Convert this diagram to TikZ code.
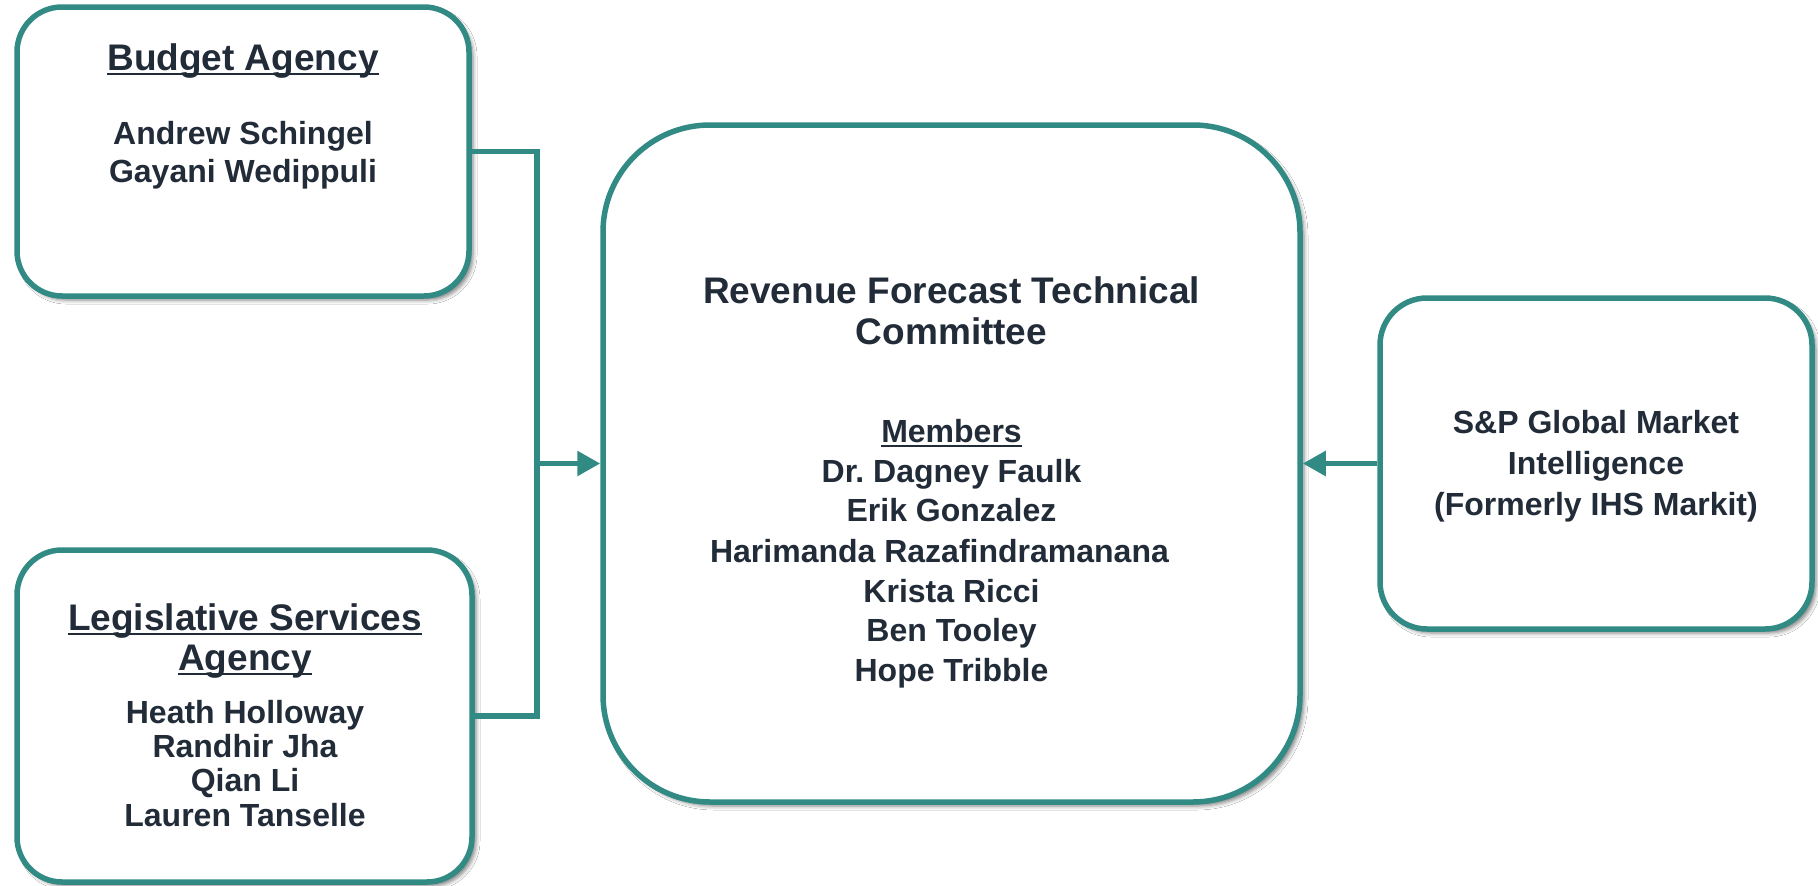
\documentclass[tikz,border=0pt]{standalone}
\usepackage{fontspec}
\setmainfont{Liberation Sans}
\usetikzlibrary{arrows.meta,shadows.blur}
\definecolor{teal1}{HTML}{318B84}
\definecolor{ink}{HTML}{222B38}
\newcommand{\myul}[1]{\leavevmode\vtop{\hbox{\smash{#1}}\kern3pt\hrule height 2.2pt}}
\tikzset{
  box/.style={draw=teal1, line width=5.5pt, rounded corners=#1, fill=white,
    blur shadow={shadow xshift=4pt, shadow yshift=-4pt, shadow blur radius=4pt, shadow opacity=50}},
  box/.default=45pt,
  conn/.style={draw=teal1, line width=5.5pt},
  arrowtip/.style={-{Triangle[length=23pt,width=24pt]}},
  bigtxt/.style={inner sep=0pt, anchor=base, text=ink, font=\bfseries\fontsize{37}{40}\selectfont},
  ppl/.style={inner sep=0pt, anchor=base, text=ink, font=\bfseries\fontsize{32}{38}\selectfont},
}
\begin{document}
\begin{tikzpicture}[x=1pt,y=-1pt]
\fill[white] (0,0) rectangle (1818,886);
\useasboundingbox (0,0) rectangle (1818,886);

% boxes
\node[box, minimum width=452pt, minimum height=289pt] (budget) at (243,151.5) {};
\node[box, minimum width=455pt, minimum height=332pt] (legis) at (244.5,716) {};
\node[box=107pt, minimum width=697pt, minimum height=677pt] (rftc) at (951.5,463.5) {};
\node[box=47pt, minimum width=432pt, minimum height=331pt] (sp) at (1596,463.5) {};

% budget text
\node[bigtxt] (b1) at (243,70) {\myul{Budget Agency}};
\node[ppl] (b2) at (243,144) {Andrew Schingel};
\node[ppl] (b3) at (243,182) {Gayani Wedippuli};

% legislative text
\node[bigtxt] (l1) at (245,630) {\myul{Legislative Services}};
\node[bigtxt] (l2) at (245,670) {\myul{Agency}};
\node[ppl] (l3) at (245,723) {Heath Holloway};
\node[ppl] (l4) at (245,757) {Randhir Jha};
\node[ppl] (l5) at (245,791) {Qian Li};
\node[ppl] (l6) at (245,826) {Lauren Tanselle};

% central text
\node[bigtxt] (c1) at (951.5,303) {Revenue Forecast Technical};
\node[bigtxt] (c2) at (951.5,344) {Committee};
\node[ppl] (c3) at (951.5,442) {\myul{Members}};
\node[ppl] (c4) at (951.5,482) {Dr.\ Dagney Faulk};
\node[ppl] (c5) at (951.5,521) {Erik Gonzalez};
\node[ppl] (c6) at (939.5,562) {Harimanda Razafindramanana};
\node[ppl] (c7) at (951.5,602) {Krista Ricci};
\node[ppl] (c8) at (951.5,641) {Ben Tooley};
\node[ppl] (c9) at (951.5,681) {Hope Tribble};

% S&P text
\node[ppl] (s1) at (1596,433) {S\&P Global Market};
\node[ppl] (s2) at (1596,474) {Intelligence};
\node[ppl] (s3) at (1596,515) {(Formerly IHS Markit)};

% connectors
\coordinate (jx) at (537,463.5);
\draw[conn] (budget.east) -| (jx) |- (legis.east);
\draw[conn,arrowtip] (jx) -- (rftc.west);
\draw[conn,arrowtip] (sp.west) -- (rftc.east);
\end{tikzpicture}
\end{document}
